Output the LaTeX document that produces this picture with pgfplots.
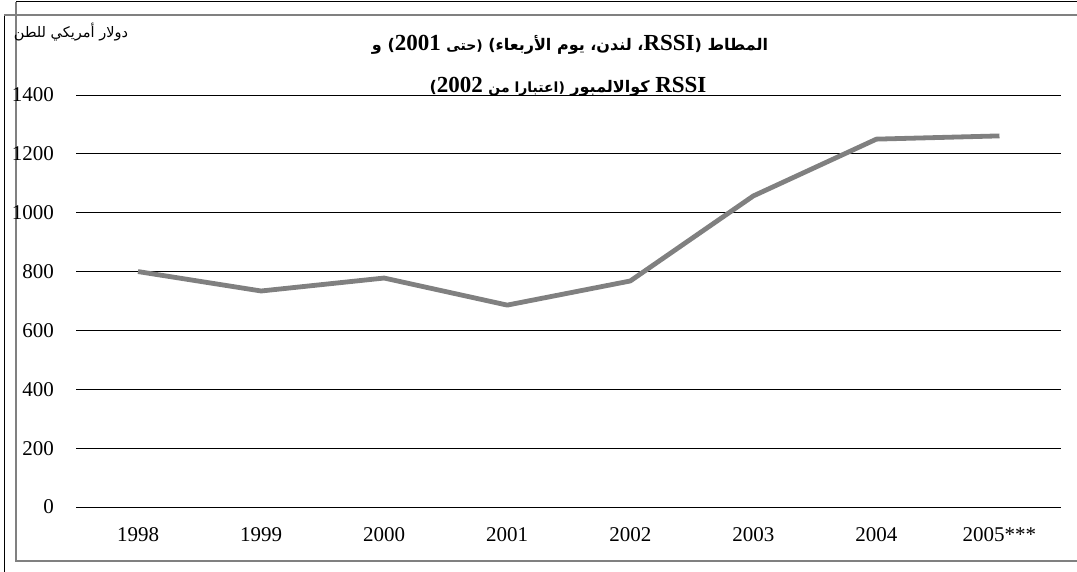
\documentclass[border=0pt]{standalone}
\usepackage{fontspec}
\usepackage{pgfplots}
\pgfplotsset{compat=1.18}
\setmainfont{Liberation Serif}
\newfontfamily\arabicfont[Script=Arabic]{DejaVu Sans}
\TeXXeTstate=1
\newcommand\lat[1]{\beginL{\rmfamily\bfseries #1}\endL}
\definecolor{linegray}{RGB}{128,128,128}
\definecolor{framegray}{RGB}{128,128,128}
\begin{document}
\begin{tikzpicture}
\useasboundingbox (0pt,0pt) rectangle (1077pt,572pt);
\draw[black, line width=1pt] (16pt,570pt) -- (1077pt,570pt);
\draw[black, line width=1pt] (4pt,557pt) -- (4pt,0pt);
\draw[framegray, line width=1.3pt] (4pt,557pt) -- (1077pt,557pt);
\draw[framegray, line width=1.3pt] (16pt,570pt) -- (16pt,11pt) -- (1077pt,11pt);
\begin{axis}[
  at={(76.5pt,65pt)}, anchor=south west,
  scale only axis, width=984.5pt, height=412pt,
  xmin=-0.5, xmax=7.5, ymin=0, ymax=1400,
  axis x line*=bottom, axis y line*=left,
  y axis line style={draw=none},
  x axis line style={black, line width=0.9pt},
  xtick={0,...,7},
  xticklabels={1998,1999,2000,2001,2002,2003,2004,2005***},
  x tick style={draw=none},
  extra x ticks={-0.5,0.5,1.5,2.5,3.5,4.5,5.5,6.5,7.5},
  extra x tick labels={},
  extra x tick style={tick style={draw=black, line width=0.9pt}, tick align=outside, major tick length=6pt},
  ytick={0,200,...,1400},
  y tick style={draw=none},
  ymajorgrids, grid style={black, line width=0.9pt},
  /pgf/number format/assume math mode=true,
  /pgf/number format/1000 sep={},
  tick label style={font=\fontsize{21}{21}\selectfont},
  yticklabel style={anchor=east, xshift=-19pt},
  xticklabel style={yshift=-17pt},
]
\addplot[linegray, line width=4.8pt, line join=round] coordinates {
(0,800) (1,734) (2,778) (3,686) (4,768) (5,1057) (6,1250) (7,1261)};
\end{axis}
\node[anchor=center] at (71pt,540pt) {\arabicfont\fontsize{14.5}{15}\selectfont\beginR دولار أمريكي للطن\endR};
\node[anchor=center] at (570pt,527pt) {\arabicfont\bfseries\fontsize{16}{20}\selectfont\beginR المطاط (\lat{\fontsize{23}{24}\selectfont RSSI}، لندن، يوم الأربعاء) {\fontsize{14}{18}\selectfont (حتى} \lat{\fontsize{23}{24}\selectfont 2001}) و\endR};
\node[anchor=center] at (568pt,485pt) {\arabicfont\bfseries\fontsize{16}{20}\selectfont\beginR \lat{\fontsize{23}{24}\selectfont RSSI} كوالالمبور {\fontsize{14}{18}\selectfont (اعتبارا من} \lat{\fontsize{23}{24}\selectfont 2002})\endR};
\end{tikzpicture}
\end{document}
